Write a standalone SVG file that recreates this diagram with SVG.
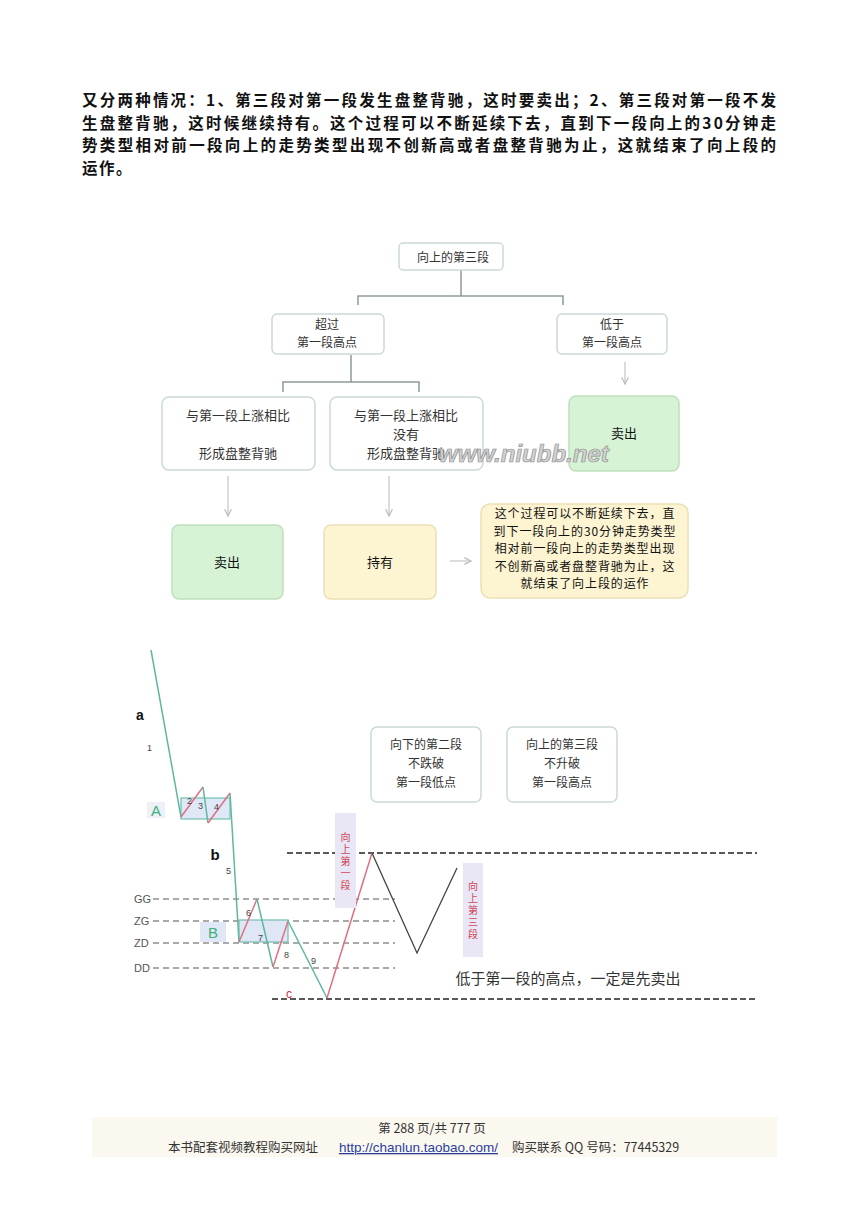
<svg xmlns="http://www.w3.org/2000/svg" width="866" height="1225" viewBox="0 0 866 1225">
<style>
.para{font-family:"Noto Sans CJK SC","Liberation Sans",sans-serif;font-size:15.5px;font-weight:bold;fill:#111}
.box{fill:#fff;stroke:#cbdad8;stroke-width:1.5}
.green{fill:#d6f3d6;stroke:#bfe0bf;stroke-width:1.5}
.yellow{fill:#fdf4d2;stroke:#ebe0b6;stroke-width:1.5}
.t12{font-family:"Noto Sans CJK SC","Liberation Sans",sans-serif;font-size:12px;fill:#333;text-anchor:middle}
.t13{font-family:"Noto Sans CJK SC","Liberation Sans",sans-serif;font-size:13px;fill:#333;text-anchor:middle}
.t13b{font-family:"Noto Sans CJK SC","Liberation Sans",sans-serif;font-size:13px;fill:#111;text-anchor:middle}
.note{font-family:"Noto Sans CJK SC","Liberation Sans",sans-serif;font-size:12px;letter-spacing:0.9px;fill:#111;text-anchor:middle}
.conn{fill:none;stroke:#8d9a99;stroke-width:1.5}
.arr{fill:none;stroke:#c4c4c4;stroke-width:1.2}
.dash{stroke:#555;stroke-width:1.2;stroke-dasharray:6 4;fill:none}
.dashk{stroke:#222;stroke-width:1.3;stroke-dasharray:6 3;fill:none}
.teal{stroke:#5fb7a0;stroke-width:1.5;fill:none}
.red{stroke:#e07080;stroke-width:1.5;fill:none}
.lvl{font-family:"Liberation Sans",sans-serif;font-size:11px;fill:#555}
.num{font-family:"Liberation Sans",sans-serif;font-size:9px;fill:#444}
.vlab{font-family:"Noto Sans CJK SC","Liberation Sans",sans-serif;font-size:10px;fill:#d04858;writing-mode:vertical-rl;letter-spacing:2px}
.foot{font-family:"Noto Sans CJK SC","Liberation Sans",sans-serif;font-size:12.5px;fill:#333}
.url{font-family:"Liberation Sans",sans-serif;font-size:13px;fill:#2a3fa0;text-decoration:underline}
</style>
<defs>
<marker id="ah" viewBox="0 0 10 10" refX="9" refY="5" markerWidth="7" markerHeight="7" orient="auto">
<path d="M1,1 L9,5 L1,9" fill="none" stroke="#bdbdbd" stroke-width="1.5"/>
</marker>
</defs>
<rect width="866" height="1225" fill="#fff"/>

<g id="paragraph">
<text class="para" x="82" y="106" textLength="694" lengthAdjust="spacing">又分两种情况：1、第三段对第一段发生盘整背驰，这时要卖出；2、第三段对第一段不发</text>
<text class="para" x="82" y="128.5" textLength="694" lengthAdjust="spacing">生盘整背驰，这时候继续持有。这个过程可以不断延续下去，直到下一段向上的30分钟走</text>
<text class="para" x="82" y="151" textLength="694" lengthAdjust="spacing">势类型相对前一段向上的走势类型出现不创新高或者盘整背驰为止，这就结束了向上段的</text>
<text class="para" x="82" y="173.5" letter-spacing="1.5">运作。</text>
</g>

<g id="connectors">
<path class="conn" d="M461,270 V296 M358,305 V296 H563 V305"/>
<path class="conn" d="M351,355 V382 M283,392 V382 H419 V392"/>
<line class="arr" x1="625" y1="362" x2="625" y2="384" marker-end="url(#ah)"/>
<line class="arr" x1="228" y1="476" x2="228" y2="516" marker-end="url(#ah)"/>
<line class="arr" x1="389" y1="476" x2="389" y2="516" marker-end="url(#ah)"/>
<line class="arr" x1="450" y1="561" x2="471" y2="561" marker-end="url(#ah)"/>
</g>

<g id="n-top">
<rect class="box" x="399" y="243" width="104" height="27" rx="4"/>
<text class="t12" x="453" y="262">向上的第三段</text>
</g>
<g id="n-exceed">
<rect class="box" x="272" y="314" width="112" height="40" rx="5"/>
<text class="t12" x="327" y="329">超过</text>
<text class="t12" x="327" y="347">第一段高点</text>
</g>
<g id="n-below">
<rect class="box" x="557" y="314" width="110" height="40" rx="5"/>
<text class="t12" x="612" y="329">低于</text>
<text class="t12" x="612" y="347">第一段高点</text>
</g>
<g id="n-div">
<rect class="box" x="162" y="397" width="153" height="73" rx="7"/>
<text class="t13" x="238" y="420">与第一段上涨相比</text>
<text class="t13" x="238" y="458">形成盘整背驰</text>
</g>
<g id="n-nodiv">
<rect class="box" x="330" y="397" width="153" height="73" rx="7"/>
<text class="t13" x="406" y="420">与第一段上涨相比</text>
<text class="t13" x="406" y="439">没有</text>
<text class="t13" x="406" y="458">形成盘整背驰</text>
</g>
<g id="n-sell1">
<rect class="green" x="569" y="396" width="110" height="75" rx="7"/>
<text class="t13b" x="624" y="438">卖出</text>
</g>
<text x="439" y="462" font-family="Liberation Sans, sans-serif" font-size="24" font-weight="bold" font-style="italic" fill="#d2d2d2" stroke="#8e8e8e" stroke-width="0.7">www.niubb.net</text>
<g id="n-sell2">
<rect class="green" x="172" y="525" width="111" height="74" rx="7"/>
<text class="t13b" x="227" y="567">卖出</text>
</g>
<g id="n-hold">
<rect class="yellow" x="324" y="525" width="112" height="74" rx="7"/>
<text class="t13b" x="380" y="567">持有</text>
</g>
<g id="n-note">
<rect class="yellow" x="481" y="504" width="207" height="94" rx="9"/>
<text class="note" x="585" y="518">这个过程可以不断延续下去，直</text>
<text class="note" x="585" y="535.5">到下一段向上的30分钟走势类型</text>
<text class="note" x="585" y="553">相对前一段向上的走势类型出现</text>
<text class="note" x="585" y="570.5">不创新高或者盘整背驰为止，这</text>
<text class="note" x="585" y="588">就结束了向上段的运作</text>
</g>

<g id="chart">
<path class="dashk" d="M287,853 H757"/>
<path class="dashk" d="M272,999 H757"/>
<path class="dash" d="M153,899 H395 M153,921 H395 M153,943 H395 M153,968 H395"/>
<text class="lvl" x="134" y="903">GG</text>
<text class="lvl" x="134" y="925">ZG</text>
<text class="lvl" x="134" y="947">ZD</text>
<text class="lvl" x="134" y="972">DD</text>

<rect x="181" y="798" width="49" height="21" fill="#dfe8f6" stroke="#7cc4b4" stroke-width="1.3"/>
<rect x="239" y="920" width="49" height="22" fill="#dfe6f6" stroke="#7cc4b4" stroke-width="1.3"/>
<rect x="147" y="802" width="18" height="16" fill="#eef0f8"/>
<text x="156" y="816" font-family="Liberation Sans, sans-serif" font-size="15" fill="#3db27a" text-anchor="middle">A</text>
<rect x="200" y="922" width="26" height="20" fill="#e0e7f6"/>
<text x="213" y="938" font-family="Liberation Sans, sans-serif" font-size="15" fill="#3db27a" text-anchor="middle">B</text>

<polyline class="teal" points="151,650 181,817"/>
<polyline class="red" points="181,817 203,787"/>
<polyline class="teal" points="203,787 208,823"/>
<polyline class="red" points="208,823 230,793"/>
<polyline class="teal" points="230,793 239,942"/>
<polyline class="red" points="239,942 257,899"/>
<polyline class="teal" points="257,899 273,967"/>
<polyline class="red" points="273,967 288,921"/>
<polyline class="teal" points="288,921 327,998"/>
<polyline class="red" points="327,998 372,853"/>
<polyline points="372,853 417,953 457,868" fill="none" stroke="#444" stroke-width="1.3"/>

<text x="140" y="720" font-family="Liberation Sans, sans-serif" font-size="14" font-weight="bold" fill="#111" text-anchor="middle">a</text>
<text x="215" y="860" font-family="Liberation Sans, sans-serif" font-size="15" font-weight="bold" fill="#111" text-anchor="middle">b</text>
<text x="289" y="998" font-family="Liberation Sans, sans-serif" font-size="12" fill="#d03040" text-anchor="middle">c</text>
<text class="num" x="147" y="751">1</text>
<text class="num" x="187" y="804">2</text>
<text class="num" x="198" y="809">3</text>
<text class="num" x="214" y="810">4</text>
<text class="num" x="226" y="874">5</text>
<text class="num" x="246" y="916">6</text>
<text class="num" x="258" y="941">7</text>
<text class="num" x="284" y="958">8</text>
<text class="num" x="311" y="964">9</text>

<rect x="335" y="813" width="21" height="95" fill="#e9e6f5"/>
<text class="vlab" x="345.5" y="832">向上第一段</text>
<rect x="463" y="863" width="20" height="94" fill="#e9e6f5"/>
<text class="vlab" x="473" y="881">向上第三段</text>

<text x="568" y="984" font-family="Noto Sans CJK SC, Liberation Sans, sans-serif" font-size="15" fill="#333" text-anchor="middle">低于第一段的高点，一定是先卖出</text>
</g>

<g id="n-box-down2">
<rect class="box" x="371" y="727" width="110" height="75" rx="6"/>
<text class="t12" x="426" y="749">向下的第二段</text>
<text class="t12" x="426" y="768">不跌破</text>
<text class="t12" x="426" y="787">第一段低点</text>
</g>
<g id="n-box-up3">
<rect class="box" x="507" y="727" width="110" height="75" rx="6"/>
<text class="t12" x="562" y="749">向上的第三段</text>
<text class="t12" x="562" y="768">不升破</text>
<text class="t12" x="562" y="787">第一段高点</text>
</g>

<g id="footer">
<rect x="92" y="1117" width="685" height="40" fill="#fbf8ef"/>
<text class="foot" x="432" y="1133" text-anchor="middle">第 288 页/共 777 页</text>
<text class="foot" x="168" y="1152">本书配套视频教程购买网址</text>
<text class="url" x="339" y="1152" textLength="159" lengthAdjust="spacingAndGlyphs">http://chanlun.taobao.com/</text>
<text class="foot" x="512" y="1152">购买联系 QQ 号码：77445329</text>
</g>
</svg>
